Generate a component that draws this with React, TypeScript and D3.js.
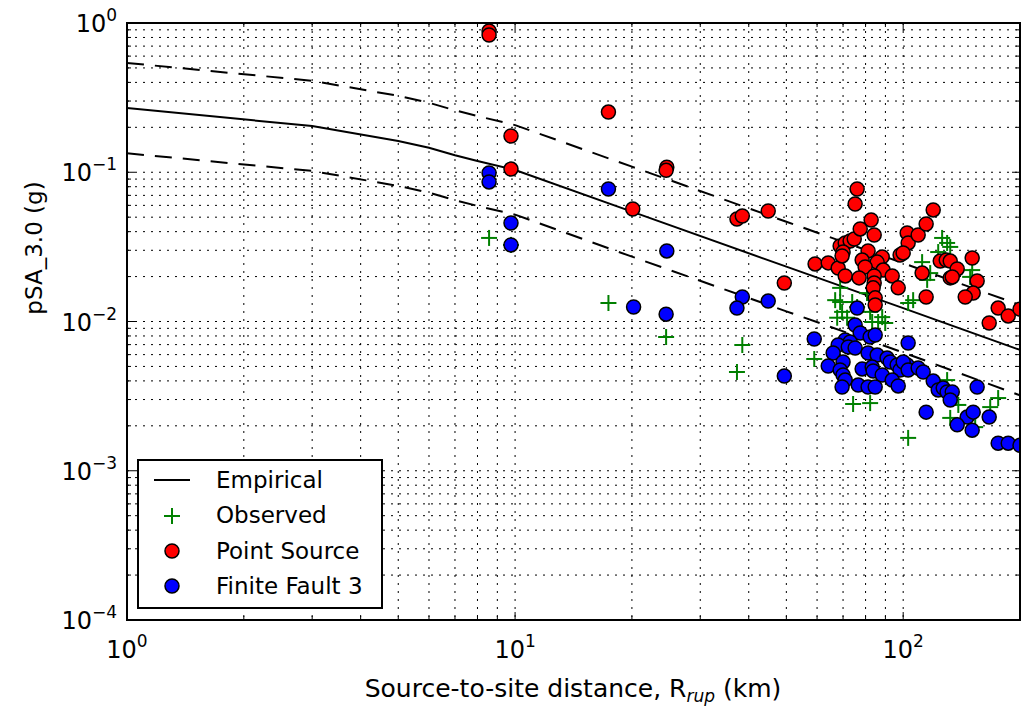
import React from "react";
import * as d3 from "d3";

// Empirical model (median and +/- bounds)
const empDist = [1, 3, 5, 6, 7, 8, 10, 20, 50, 100, 200];
const empMedian = [0.269, 0.204, 0.162, 0.146, 0.13, 0.119, 0.1035, 0.0545, 0.0233, 0.0123, 0.00645];
const empUpper = [0.54, 0.41, 0.325, 0.292, 0.26, 0.238, 0.207, 0.109, 0.0466, 0.0246, 0.0129];
const empLower = [0.134, 0.102, 0.081, 0.073, 0.065, 0.0595, 0.052, 0.0272, 0.0117, 0.0062, 0.0032];

// Observed [distance km, pSA g]
const observed: [number, number][] = [
  [8.57, 0.0363], [9.76, 0.0326], [17.4, 0.0133], [24.5, 0.00787], [38.5, 0.00696],
  [37.3, 0.00459], [59.0, 0.00561], [67.6, 0.0106], [74.3, 0.0028], [82.2, 0.00284],
  [68.8, 0.0135], [73.9, 0.0135], [76.1, 0.0125], [83.2, 0.00992], [89.9, 0.00977],
  [88.3, 0.0107], [68.8, 0.0168], [66.8, 0.0139], [80.7, 0.0155], [69.6, 0.0116],
  [71.7, 0.0106], [82.2, 0.0116], [86.2, 0.00992], [126.0, 0.0363], [129.8, 0.0336],
  [123.1, 0.0292], [111.9, 0.025], [117.4, 0.0211], [115.3, 0.019], [103.0, 0.0133],
  [106.1, 0.0139], [150.6, 0.0221], [148.8, 0.0199], [132.2, 0.0316], [129.8, 0.00405],
  [138.7, 0.00276], [132.2, 0.00226], [153.3, 0.00196], [175.7, 0.00307], [167.6, 0.00267],
  [103.0, 0.00166],
];

// Point source simulations
const pointSource: [number, number][] = [
  [8.57, 0.884], [8.57, 0.831], [9.76, 0.175], [9.76, 0.105], [17.4, 0.253],
  [20.1, 0.0567], [24.6, 0.108], [24.5, 0.103], [37.3, 0.0486], [38.5, 0.0509],
  [44.9, 0.055], [49.4, 0.0181], [59.3, 0.0243], [64.1, 0.0247], [68.0, 0.0228],
  [68.8, 0.0321], [70.9, 0.0336], [73.0, 0.0346], [74.8, 0.0357], [70.0, 0.0292],
  [69.6, 0.0275], [70.9, 0.0202], [76.1, 0.0772], [75.2, 0.0613], [82.7, 0.0479],
  [77.5, 0.0417], [84.2, 0.038], [81.2, 0.0297], [78.4, 0.0258], [88.3, 0.0271],
  [85.7, 0.025], [79.8, 0.0232], [88.8, 0.0221], [84.2, 0.0202], [93.7, 0.0202],
  [77.0, 0.0196], [84.2, 0.0181], [83.7, 0.0168], [97.1, 0.0168], [84.7, 0.0144],
  [84.7, 0.0129], [102.4, 0.0392], [103.0, 0.0336], [109.3, 0.038], [114.6, 0.045],
  [119.5, 0.0559], [98.2, 0.0279], [100, 0.0288], [111.9, 0.0211], [114.6, 0.0146],
  [124.6, 0.0254], [129.1, 0.0258], [132.2, 0.0254], [137.8, 0.0225], [132.2, 0.0196],
  [133.8, 0.0199], [150.6, 0.0266], [155.1, 0.0187], [151.5, 0.0155], [144.5, 0.0146],
  [175.7, 0.0123], [186.5, 0.0109], [166.6, 0.00977], [200, 0.0121],
];

// Finite fault 3 simulations
const finiteFault: [number, number][] = [
  [8.57, 0.0989], [8.57, 0.0861], [9.76, 0.0457], [9.76, 0.0326], [17.4, 0.0772],
  [20.2, 0.0125], [24.6, 0.0297], [24.5, 0.0112], [38.5, 0.0146], [37.3, 0.0123],
  [44.9, 0.0137], [49.4, 0.00431], [59.0, 0.00763], [76.1, 0.0123], [75.2, 0.00947],
  [77.5, 0.00837], [82.2, 0.00787], [84.7, 0.00812], [70.9, 0.00752], [73.0, 0.00729],
  [68.0, 0.00696], [72.2, 0.00675], [75.2, 0.00664], [66.0, 0.00615], [70.0, 0.00535],
  [81.2, 0.00615], [85.7, 0.00596], [64.1, 0.00503], [68.8, 0.00473], [70.0, 0.00438],
  [78.4, 0.00481], [83.2, 0.00495], [83.7, 0.00466], [90.9, 0.00569], [92.6, 0.00535],
  [88.3, 0.00438], [70.9, 0.00405], [69.6, 0.00364], [76.6, 0.00375], [81.2, 0.00364],
  [84.7, 0.00364], [96.5, 0.00511], [98.2, 0.00473], [93.7, 0.00405], [97.1, 0.0037],
  [102.4, 0.00511], [103.0, 0.00718], [100, 0.00535], [103.0, 0.00473], [109.3, 0.00488],
  [112.6, 0.00459], [119.5, 0.00399], [123.1, 0.00348], [126.8, 0.00358], [129.8, 0.00337],
  [133.8, 0.00337], [132.2, 0.00298], [114.6, 0.00247], [155.1, 0.00364], [146.2, 0.00229],
  [151.5, 0.00247], [137.8, 0.00203], [150.6, 0.00187], [166.6, 0.00229], [175.7, 0.00153],
  [186.5, 0.00153], [200, 0.00148],
];

const xMajor = [1, 10, 100];
const yMajor = [1e-4, 1e-3, 1e-2, 1e-1, 1];
const legendLabels = ["Empirical", "Observed", "Point Source", "Finite Fault 3"];

const W = 1024, H = 708;
const L = 127, R = 1020, T = 23, B = 620;
const FONT = "DejaVu Sans, sans-serif";

export default function App() {
  const x = d3.scaleLog().domain([1, 200]).range([L, R]);
  const y = d3.scaleLog().domain([1e-4, 1]).range([B, T]);

  const xMinor: number[] = [];
  [1, 10, 100].forEach((d) => {
    for (let k = 2; k <= 9; k++) if (d * k <= 200) xMinor.push(d * k);
  });
  const yMinor: number[] = [];
  [1e-4, 1e-3, 1e-2, 1e-1].forEach((d) => {
    for (let k = 2; k <= 9; k++) yMinor.push(d * k);
  });

  const line = d3
    .line<number>()
    .x((_, i) => x(empDist[i]))
    .y((d) => y(d));

  const grid = "2,6";
  const exp = (v: number) => {
    const e = Math.round(Math.log10(v));
    return e < 0 ? "\u2212" + Math.abs(e) : String(e);
  };

  const plus = (cx: number, cy: number, key: string | number) => (
    <g key={key} stroke="#008000" strokeWidth={2}>
      <line x1={cx - 8} x2={cx + 8} y1={cy} y2={cy} />
      <line x1={cx} x2={cx} y1={cy - 8} y2={cy + 8} />
    </g>
  );

  return (
    <svg
      width={W}
      height={H}
      style={{ position: "absolute", left: 0, top: 0, background: "#fff" }}
      fontFamily={FONT}
    >
      <rect x={0} y={0} width={W} height={H} fill="#fff" />
      <defs>
        <clipPath id="plotclip">
          <rect x={L} y={T} width={R - L} height={B - T} />
        </clipPath>
      </defs>

      {/* grid */}
      <g stroke="#000" strokeWidth={1} strokeDasharray={grid}>
        {[...xMajor, ...xMinor].filter((v) => v > 1 && v < 200).map((v, i) => (
          <line key={"gx" + i} x1={x(v)} x2={x(v)} y1={T} y2={B} />
        ))}
        {[...yMajor, ...yMinor].filter((v) => v > 1e-4 && v < 1).map((v, i) => (
          <line key={"gy" + i} x1={L} x2={R} y1={y(v)} y2={y(v)} />
        ))}
      </g>

      {/* ticks */}
      <g stroke="#000" strokeWidth={1}>
        {xMajor.map((v, i) => (
          <g key={"xt" + i}>
            <line x1={x(v)} x2={x(v)} y1={B} y2={B - 8} />
            <line x1={x(v)} x2={x(v)} y1={T} y2={T + 8} />
          </g>
        ))}
        {xMinor.map((v, i) => (
          <g key={"xm" + i}>
            <line x1={x(v)} x2={x(v)} y1={B} y2={B - 4} />
            <line x1={x(v)} x2={x(v)} y1={T} y2={T + 4} />
          </g>
        ))}
        {yMajor.map((v, i) => (
          <g key={"yt" + i}>
            <line x1={L} x2={L + 8} y1={y(v)} y2={y(v)} />
            <line x1={R} x2={R - 8} y1={y(v)} y2={y(v)} />
          </g>
        ))}
        {yMinor.map((v, i) => (
          <g key={"ym" + i}>
            <line x1={L} x2={L + 4} y1={y(v)} y2={y(v)} />
            <line x1={R} x2={R - 4} y1={y(v)} y2={y(v)} />
          </g>
        ))}
      </g>

      <g clipPath="url(#plotclip)">
        <path d={line(empMedian) || ""} fill="none" stroke="#000" strokeWidth={2} />
        <path d={line(empUpper) || ""} fill="none" stroke="#000" strokeWidth={2} strokeDasharray="17,11" />
        <path d={line(empLower) || ""} fill="none" stroke="#000" strokeWidth={2} strokeDasharray="17,11" />

        {observed.map((d, i) => plus(x(d[0]), y(d[1]), "o" + i))}
        {pointSource.map((d, i) => (
          <circle key={"p" + i} cx={x(d[0])} cy={y(d[1])} r={7} fill="#ff0000" stroke="#000" strokeWidth={1.5} />
        ))}
        {finiteFault.map((d, i) => (
          <circle key={"f" + i} cx={x(d[0])} cy={y(d[1])} r={7} fill="#0000ff" stroke="#000" strokeWidth={1.5} />
        ))}
      </g>

      {/* frame */}
      <rect x={L} y={T} width={R - L} height={B - T} fill="none" stroke="#000" strokeWidth={2} />

      {/* tick labels */}
      <g fontSize={24} fill="#000">
        {xMajor.map((v, i) => (
          <text key={"xl" + i} x={x(v)} y={B + 38} textAnchor="middle">
            10<tspan fontSize={17} dy={-11}>{exp(v)}</tspan>
          </text>
        ))}
        {yMajor.map((v, i) => (
          <text key={"yl" + i} x={L - 10} y={y(v) + 9} textAnchor="end">
            10<tspan fontSize={17} dy={-11}>{exp(v)}</tspan>
          </text>
        ))}
      </g>

      {/* axis labels */}
      <text x={573} y={697} textAnchor="middle" fontSize={25}>
        Source-to-site distance, R
        <tspan fontSize={17} fontStyle="italic" dy={5}>rup</tspan>
        <tspan dy={-5}> (km)</tspan>
      </text>
      <text transform="translate(42,248) rotate(-90)" textAnchor="middle" fontSize={23}>
        pSA_3.0 (g)
      </text>

      {/* legend */}
      <g>
        <rect x={138} y={460} width={244} height={148} fill="#fff" stroke="#000" strokeWidth={2} />
        <line x1={154} x2={190} y1={480} y2={480} stroke="#000" strokeWidth={2} />
        {plus(172, 516, "lg")}
        <circle cx={172} cy={551} r={7} fill="#ff0000" stroke="#000" strokeWidth={1.5} />
        <circle cx={172} cy={586} r={7} fill="#0000ff" stroke="#000" strokeWidth={1.5} />
        {legendLabels.map((t, i) => (
          <text key={"lt" + i} x={216} y={488 + i * 35.3} fontSize={23}>
            {t}
          </text>
        ))}
      </g>
    </svg>
  );
}
